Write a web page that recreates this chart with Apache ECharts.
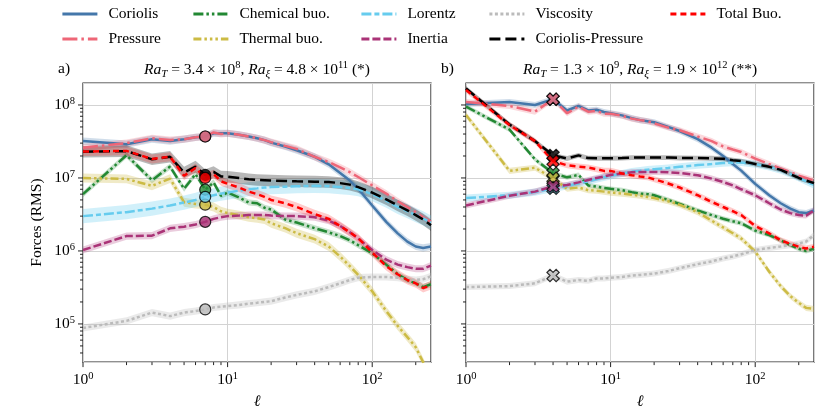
<!DOCTYPE html>
<html>
<head>
    <meta charset="UTF-8">
    <title>Forces spectra</title>
    <script src="https://cdn.jsdelivr.net/npm/echarts@6/dist/echarts.min.js"></script>
    <style>
        html, body { margin: 0; padding: 0; background: #fff; }
        #chart { width: 830px; height: 415px; }
    </style>
</head>
<body>
    <div id="chart"></div>
    <script>
        // spherical harmonic degree
        var ell = [1, 2, 3, 4, 5, 6, 7, 8, 9, 10, 12, 14, 16, 18, 20, 25, 30, 40, 50, 60, 70, 80, 100, 125, 150, 175, 200, 225, 255];

        // panel a) RaT = 3.4e8
        var coriolisA = [3.2e7, 2.9e7, 3.4e7, 3.2e7, 3.4e7, 3.6e7, 3.7e7, 4.1e7, 4.1e7, 4.1e7, 3.9e7, 3.7e7, 3.5e7, 3.3e7, 3.05e7, 2.7e7, 2.4e7, 1.95e7, 1.54e7, 1.17e7, 9.2e6, 7.1e6, 4.2e6, 2.5e6, 1.74e6, 1.34e6, 1.15e6, 1.1e6, 1.15e6];
        var pressureA = [2.6e7, 3.0e7, 3.5e7, 3.3e7, 3.4e7, 3.6e7, 3.7e7, 4.2e7, 4.0e7, 4.1e7, 3.9e7, 3.7e7, 3.5e7, 3.3e7, 3.1e7, 2.75e7, 2.5e7, 1.95e7, 1.65e7, 1.4e7, 1.2e7, 1.03e7, 7.9e6, 6.1e6, 4.8e6, 4.0e6, 3.4e6, 2.9e6, 2.5e6];
        var chemA = [6.0e6, 2.05e7, 9.3e6, 1.43e7, 7.1e6, 1.13e7, 6.9e6, 8.7e6, 5.7e6, 6.3e6, 5.4e6, 4.6e6, 4.5e6, 3.9e6, 3.7e6, 2.7e6, 2.45e6, 2.05e6, 1.8e6, 1.6e6, 1.4e6, 1.2e6, 9.3e5, 6.5e5, 4.8e5, 4.0e5, 3.6e5, 3.2e5, 3.5e5];
        var thermalA = [1.0e7, 9.7e6, 7.8e6, 9.8e6, 4.65e6, 4.4e6, 4.3e6, 4.0e6, 3.5e6, 3.3e6, 3.1e6, 2.9e6, 2.8e6, 2.7e6, 2.4e6, 2.05e6, 1.75e6, 1.45e6, 1.15e6, 8.4e5, 6.2e5, 4.7e5, 2.8e5, 1.5e5, 9.4e4, 6.6e4, 4.8e4, 3.0e4, 1.8e4];
        var lorentzA = [3.0e6, 3.4e6, 3.8e6, 4.2e6, 4.6e6, 5.0e6, 5.5e6, 5.8e6, 6.1e6, 6.3e6, 6.7e6, 7.0e6, 7.2e6, 7.4e6, 7.5e6, 7.6e6, 7.7e6, 7.8e6, 7.7e6, 7.5e6, 7.3e6, 7.0e6, 6.0e6, 4.9e6, 4.0e6, 3.5e6, 3.1e6, 2.8e6, 2.45e6];
        var inertiaA = [1.03e6, 1.6e6, 1.62e6, 2.04e6, 2.15e6, 2.3e6, 2.5e6, 2.75e6, 2.9e6, 3.0e6, 3.05e6, 3.1e6, 3.1e6, 3.1e6, 3.05e6, 3.0e6, 3.0e6, 2.9e6, 2.6e6, 2.2e6, 1.8e6, 1.48e6, 1.03e6, 7.6e5, 6.5e5, 6.0e5, 5.7e5, 5.7e5, 6.3e5];
        var viscA = [8.8e4, 1.1e5, 1.43e5, 1.28e5, 1.43e5, 1.5e5, 1.58e5, 1.68e5, 1.72e5, 1.76e5, 1.82e5, 1.9e5, 1.95e5, 2.0e5, 2.05e5, 2.3e5, 2.5e5, 2.8e5, 3.2e5, 3.6e5, 4.0e5, 4.3e5, 4.4e5, 4.4e5, 4.3e5, 4.1e5, 4.0e5, 4.1e5, 4.5e5];
        var cpA = [2.29e7, 2.33e7, 1.8e7, 1.95e7, 1.19e7, 1.43e7, 1.1e7, 1.21e7, 1.05e7, 1.04e7, 1.0e7, 9.6e6, 9.4e6, 9.3e6, 9.2e6, 9.1e6, 9.0e6, 8.9e6, 8.8e6, 8.5e6, 8.1e6, 7.5e6, 6.3e6, 5.1e6, 4.2e6, 3.6e6, 3.1e6, 2.7e6, 2.25e6];
        var totalA = [2.3e7, 2.35e7, 1.82e7, 1.95e7, 1.07e7, 1.37e7, 1.0e7, 1.13e7, 9.0e6, 8.3e6, 7.4e6, 6.5e6, 6.0e6, 5.5e6, 5.0e6, 4.5e6, 4.0e6, 3.2e6, 2.75e6, 2.2e6, 1.8e6, 1.5e6, 9.5e5, 6.2e5, 4.8e5, 4.0e5, 3.6e5, 3.1e5, 3.4e5];

        // panel b) RaT = 1.3e9
        var coriolisB = [1.03e8, 1.1e8, 1.0e8, 1.2e8, 8.4e7, 9.7e7, 8.4e7, 8.6e7, 8.0e7, 7.7e7, 7.2e7, 6.6e7, 6.2e7, 6.0e7, 5.8e7, 5.0e7, 4.4e7, 3.4e7, 2.6e7, 2.0e7, 1.55e7, 1.26e7, 8.3e6, 5.8e6, 4.5e6, 3.8e6, 3.4e6, 3.3e6, 3.6e6];
        var pressureB = [1.1e8, 9.7e7, 8.1e7, 1.2e8, 7.7e7, 9.5e7, 8.1e7, 8.3e7, 7.6e7, 7.6e7, 7.1e7, 6.5e7, 6.2e7, 6.0e7, 5.6e7, 4.9e7, 4.5e7, 3.7e7, 3.2e7, 2.7e7, 2.45e7, 2.27e7, 1.84e7, 1.55e7, 1.35e7, 1.2e7, 1.07e7, 1.0e7, 9.2e6];
        var chemB = [9.5e7, 4.6e7, 1.8e7, 1.16e7, 1.02e7, 1.1e7, 7.9e6, 7.6e6, 7.3e6, 7.1e6, 6.8e6, 6.4e6, 6.1e6, 6.0e6, 5.8e6, 5.0e6, 4.4e6, 3.6e6, 3.1e6, 2.76e6, 2.55e6, 2.4e6, 1.9e6, 1.65e6, 1.4e6, 1.2e6, 1.07e6, 1.0e6, 1.07e6];
        var thermalB = [7.3e7, 1.25e7, 1.38e7, 9.9e6, 7.1e6, 7.4e6, 6.8e6, 6.7e6, 6.5e6, 6.3e6, 6.1e6, 5.9e6, 5.7e6, 5.5e6, 5.3e6, 4.8e6, 4.3e6, 3.4e6, 2.6e6, 2.1e6, 1.75e6, 1.48e6, 9.8e5, 5.2e5, 3.3e5, 2.4e5, 1.95e5, 1.66e5, 1.6e5];
        var lorentzB = [5.3e6, 5.8e6, 6.4e6, 7.2e6, 7.8e6, 8.4e6, 9.0e6, 9.6e6, 1.02e7, 1.07e7, 1.15e7, 1.22e7, 1.26e7, 1.3e7, 1.32e7, 1.37e7, 1.42e7, 1.5e7, 1.55e7, 1.6e7, 1.62e7, 1.63e7, 1.55e7, 1.42e7, 1.28e7, 1.13e7, 1.0e7, 9.0e6, 8.0e6];
        var inertiaB = [4.2e6, 5.7e6, 6.5e6, 7.7e6, 8.0e6, 8.7e6, 9.4e6, 1.0e7, 1.05e7, 1.1e7, 1.15e7, 1.2e7, 1.21e7, 1.21e7, 1.21e7, 1.2e7, 1.17e7, 1.09e7, 9.8e6, 8.8e6, 7.9e6, 7.0e6, 5.8e6, 4.5e6, 3.7e6, 3.3e6, 3.1e6, 3.05e6, 3.6e6];
        var viscB = [3.2e5, 3.3e5, 3.6e5, 4.6e5, 3.8e5, 4.0e5, 3.9e5, 4.2e5, 4.2e5, 4.3e5, 4.4e5, 4.6e5, 4.7e5, 4.8e5, 4.9e5, 5.3e5, 5.8e5, 6.6e5, 7.2e5, 7.9e5, 8.4e5, 9.0e5, 1.03e6, 1.1e6, 1.15e6, 1.2e6, 1.26e6, 1.35e6, 1.65e6];
        var cpB = [1.68e8, 5.4e7, 3.2e7, 2.04e7, 1.85e7, 2.04e7, 1.87e7, 1.86e7, 1.86e7, 1.86e7, 1.87e7, 1.9e7, 1.9e7, 1.9e7, 1.9e7, 1.9e7, 1.88e7, 1.87e7, 1.86e7, 1.83e7, 1.75e7, 1.7e7, 1.55e7, 1.42e7, 1.29e7, 1.13e7, 1.0e7, 9.2e6, 8.5e6];
        var totalB = [1.6e8, 5.3e7, 3.2e7, 1.7e7, 1.49e7, 1.43e7, 1.39e7, 1.32e7, 1.25e7, 1.25e7, 1.15e7, 1.09e7, 1.05e7, 1.02e7, 9.6e6, 8.4e6, 7.4e6, 5.8e6, 4.7e6, 4.0e6, 3.5e6, 3.1e6, 2.2e6, 1.74e6, 1.4e6, 1.25e6, 1.14e6, 1.08e6, 1.14e6];

        // relative half width of the shaded bands
        var spreadA = [1.12, 1.12, 1.1, 1.15, 1.25, 1.12, 1.12, 1.2, 1.15];
        var spreadB = [1.1, 1.1, 1.08, 1.1, 1.12, 1.1, 1.1, 1.08, 1.1];

        var names = ['Coriolis', 'Pressure', 'Chemical buo.', 'Thermal buo.', 'Lorentz', 'Inertia', 'Viscosity', 'Coriolis-Pressure', 'Total Buo.'];
        var dataA = [coriolisA, pressureA, chemA, thermalA, lorentzA, inertiaA, viscA, cpA, totalA];
        var dataB = [coriolisB, pressureB, chemB, thermalB, lorentzB, inertiaB, viscB, cpB, totalB];

        var markerEllA = 7;
        var markerEllB = 4;

        var xMajor = [1, 10, 100];
        var xMinor = [2, 3, 4, 5, 6, 7, 8, 9, 20, 30, 40, 50, 60, 70, 80, 90, 200];
        var yMajor = [1e5, 1e6, 1e7, 1e8];
        var yMinor = [4e4, 5e4, 6e4, 7e4, 8e4, 9e4, 2e5, 3e5, 4e5, 5e5, 6e5, 7e5, 8e5, 9e5,
                      2e6, 3e6, 4e6, 5e6, 6e6, 7e6, 8e6, 9e6, 2e7, 3e7, 4e7, 5e7, 6e7, 7e7, 8e7, 9e7];

        var X_MIN = 1, X_MAX = 255, Y_MIN = 3e4, Y_MAX = 2e8;

        var colors = ['#4477AA', '#EE6677', '#228833', '#CCBB44', '#66CCEE', '#AA3377', '#BBBBBB', '#000000', '#FF0000'];
        var dashes = ['solid', [15, 4, 2.5, 4], [10, 3, 2.5, 3, 2.5, 3], [8, 3, 2.5, 3, 2.5, 3, 2.5, 3],
                      [10, 3, 5, 3], [8, 3], [3, 2.5], [11, 5], [6, 4]];
        var bandAlpha = [0.25, 0.25, 0.25, 0.3, 0.3, 0.25, 0.3, 0.28, 0.2];

        var FONT = 'Liberation Serif, DejaVu Serif, serif';
        var chart = echarts.init(document.getElementById('chart'), null, {renderer: 'canvas'});

        function powLabel(v) {
            var l = Math.log(v) / Math.LN10;
            var e = Math.round(l);
            if (Math.abs(l - e) > 1e-6) return '';
            return '10{sup|' + e + '}';
        }
        var labelRich = {sup: {fontSize: 10.5, fontFamily: FONT, color: '#000', verticalAlign: 'top', lineHeight: 10}};

        var grids = [
            {left: 83, top: 83, width: 348, height: 282},
            {left: 466, top: 83, width: 348, height: 282}
        ];

        function bandSeries(gi, vals, spread, color, alpha) {
            return {
                type: 'custom', xAxisIndex: gi, yAxisIndex: gi, clip: true, silent: true, z: 1,
                data: ell.map(function (x, k) { return [x, vals[k]]; }),
                renderItem: function (params, api) {
                    if (params.dataIndex !== 0) return null;
                    var pts = [];
                    for (var k = 0; k < ell.length; k++) pts.push(api.coord([ell[k], vals[k] * spread]));
                    for (var j = ell.length - 1; j >= 0; j--) pts.push(api.coord([ell[j], vals[j] / spread]));
                    return {type: 'polygon', shape: {points: pts}, style: {fill: color, opacity: alpha}};
                }
            };
        }

        function tickSeries(gi) {
            var d = [];
            xMajor.forEach(function (v) { d.push([v, Y_MIN, 5, 0]); });
            xMinor.forEach(function (v) { d.push([v, Y_MIN, 3, 0]); });
            yMajor.forEach(function (v) { d.push([X_MIN, v, 5, 1]); });
            yMinor.forEach(function (v) { d.push([X_MIN, v, 3, 1]); });
            return {
                type: 'custom', xAxisIndex: gi, yAxisIndex: gi, clip: false, silent: true, z: 6,
                data: d,
                renderItem: function (params, api) {
                    var p = api.coord([api.value(0), api.value(1)]);
                    var len = api.value(2);
                    var shape = api.value(3) === 0
                        ? {x1: p[0], y1: p[1], x2: p[0], y2: p[1] + len}
                        : {x1: p[0] - len, y1: p[1], x2: p[0], y2: p[1]};
                    return {type: 'line', shape: shape, style: {stroke: '#222', lineWidth: 1}};
                }
            };
        }

        var xSymbol = 'path://M-1,-3H1V-1H3V1H1V3H-1V1H-3V-1H-1Z';

        var series = [];
        [dataA, dataB].forEach(function (data, gi) {
            var spread = gi === 0 ? spreadA : spreadB;
            data.forEach(function (vals, k) {
                series.push(bandSeries(gi, vals, spread[k], colors[k], bandAlpha[k]));
            });
            data.forEach(function (vals, k) {
                series.push({
                    name: names[k], type: 'line', xAxisIndex: gi, yAxisIndex: gi, z: 3,
                    symbol: 'none', clip: true, silent: true,
                    data: ell.map(function (x, i) { return [x, vals[i]]; }),
                    lineStyle: {color: colors[k], width: 2.5, type: dashes[k]},
                    itemStyle: {color: colors[k]}
                });
            });
            var mEll = gi === 0 ? markerEllA : markerEllB;
            var idx = ell.indexOf(mEll);
            series.push({
                type: 'scatter', xAxisIndex: gi, yAxisIndex: gi, z: 5, silent: true,
                symbol: gi === 0 ? 'circle' : xSymbol,
                symbolSize: gi === 0 ? 11 : 13,
                symbolRotate: gi === 0 ? 0 : 45,
                data: data.map(function (vals, k) {
                    return {value: [mEll, vals[idx]], itemStyle: {color: colors[k], borderColor: '#000', borderWidth: 1.2}};
                })
            });
            series.push(tickSeries(gi));
        });

        function axisX(gi) {
            return {
                type: 'log', logBase: 10, gridIndex: gi, min: X_MIN, max: X_MAX,
                axisLine: {show: false}, axisTick: {show: false}, minorTick: {show: false},
                axisLabel: {formatter: powLabel, rich: labelRich, fontSize: 15.5, fontFamily: FONT, color: '#000', margin: 9, lineHeight: 18},
                splitLine: {show: true, lineStyle: {color: '#d3d3d3', width: 1}},
                name: 'ℓ', nameLocation: 'middle', nameGap: 30,
                nameTextStyle: {fontFamily: FONT, fontStyle: 'italic', fontSize: 16, color: '#000'}
            };
        }
        function axisY(gi) {
            return {
                type: 'log', logBase: 10, gridIndex: gi, min: Y_MIN, max: Y_MAX,
                axisLine: {show: false}, axisTick: {show: false}, minorTick: {show: false},
                axisLabel: {show: gi === 0, formatter: powLabel, rich: labelRich, fontSize: 15.5, fontFamily: FONT, color: '#000', margin: 8, lineHeight: 18},
                splitLine: {show: true, lineStyle: {color: '#d3d3d3', width: 1}},
                name: gi === 0 ? 'Forces (RMS)' : '', nameLocation: 'middle', nameGap: 38,
                nameTextStyle: {fontFamily: FONT, fontSize: 15.5, color: '#000'}
            };
        }

        var legendCols = [
            {left: 61, items: ['Coriolis', 'Pressure']},
            {left: 192, items: ['Chemical buo.', 'Thermal buo.']},
            {left: 360, items: ['Lorentz', 'Inertia']},
            {left: 488, items: ['Viscosity', 'Coriolis-Pressure']},
            {left: 669, items: ['Total Buo.']}
        ];

        var titleRich = {
            i: {fontFamily: FONT, fontStyle: 'italic', fontSize: 15.5, lineHeight: 20},
            sub: {fontFamily: FONT, fontStyle: 'italic', fontSize: 11, verticalAlign: 'bottom', lineHeight: 11},
            sup: {fontFamily: FONT, fontSize: 10.5, verticalAlign: 'top', lineHeight: 10},
            n: {fontFamily: FONT, fontSize: 15.5, lineHeight: 20}
        };
        function titleText(a, ea, b, eb, tag) {
            return '{i|Ra}{sub|T}{n| = ' + a + ' × 10}{sup|' + ea + '}{n|, }{i|Ra}{sub|ξ}{n| = ' + b + ' × 10}{sup|' + eb + '}{n| ' + tag + '}';
        }

        chart.setOption({
            animation: false,
            backgroundColor: '#fff',
            textStyle: {fontFamily: FONT},
            grid: grids.map(function (g) {
                return {left: g.left, top: g.top, width: g.width, height: g.height, show: true,
                        borderColor: '#222', borderWidth: 1.2, backgroundColor: 'transparent', containLabel: false};
            }),
            xAxis: [axisX(0), axisX(1)],
            yAxis: [axisY(0), axisY(1)],
            legend: legendCols.map(function (c) {
                return {
                    orient: 'vertical', left: c.left, top: 6, itemWidth: 35, itemHeight: 14, itemGap: 9,
                    selectedMode: false, data: c.items, padding: 0,
                    itemStyle: {opacity: 0, borderWidth: 0},
                    lineStyle: {width: 2.8},
                    textStyle: {fontFamily: FONT, fontSize: 15.5, color: '#000', padding: [0, 0, 0, 6]}
                };
            }),
            graphic: [
                {type: 'text', left: 58, top: 61, style: {text: 'a)', font: '15.5px ' + FONT, fill: '#000'}},
                {type: 'text', left: 441, top: 61, style: {text: 'b)', font: '15.5px ' + FONT, fill: '#000'}},
                {type: 'text', x: 257, y: 70, style: {text: titleText('3.4', 8, '4.8', 11, '(*)'), rich: titleRich, align: 'center', verticalAlign: 'middle', fill: '#000'}},
                {type: 'text', x: 640, y: 70, style: {text: titleText('1.3', 9, '1.9', 12, '(**)'), rich: titleRich, align: 'center', verticalAlign: 'middle', fill: '#000'}}
            ],
            series: series
        });
    </script>
</body>
</html>
